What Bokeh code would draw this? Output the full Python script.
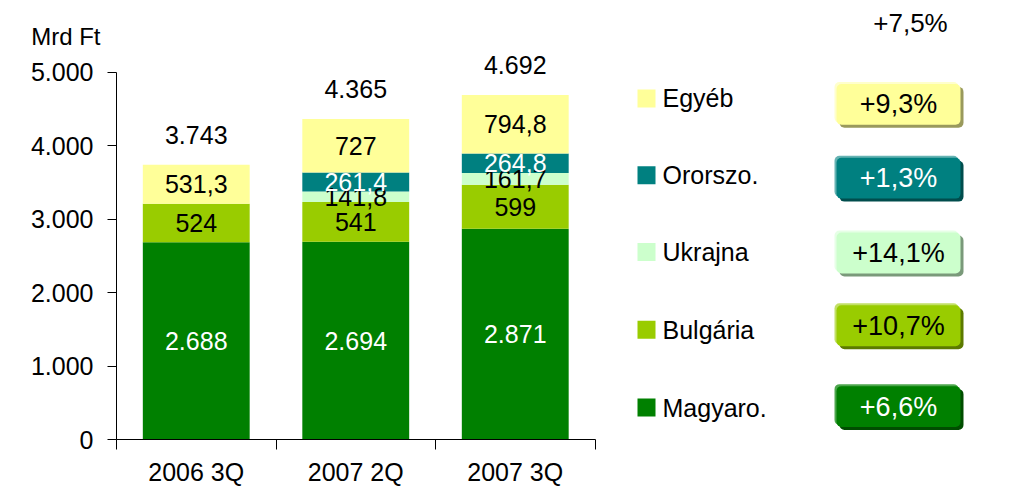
from bokeh.plotting import figure
from bokeh.layouts import column
from bokeh.models import ColumnDataSource, FixedTicker, Range1d, BoxAnnotation
from bokeh.core.properties import value
from bokeh.embed import file_html
from bokeh.resources import INLINE
import numpy as np

# ---------------- data ----------------
categories = ["2006 3Q", "2007 2Q", "2007 3Q"]
series = ["Magyaro.", "Bulgária", "Ukrajna", "Ororszo.", "Egyéb"]
magyaro = [2688, 2694, 2871]
bulgaria = [524, 541, 599]
ukrajna = [0, 141.8, 161.7]
oroszo = [0, 261.4, 264.8]
egyeb = [531.3, 727, 794.8]
totals = [3743, 4365, 4692]
growth = [6.6, 10.7, 14.1, 1.3, 9.3]          # same order as series
total_growth = 7.5
y_ticks = [0, 1000, 2000, 3000, 4000, 5000]
unit_label = "Mrd Ft"

# ---------------- styles ----------------
colors = ["#008000", "#99CC00", "#CCFFCC", "#008080", "#FFFF99"]
shadows = ["#004d00", "#5c7a00", "#7a997a", "#004d4d", "#99995c"]
highlights = ["#4da64d", "#c2e066", "#e6ffe6", "#66b3b3", "#ffffcc"]
seg_text = ["white", "black", "black", "white", "black"]
box_text = ["white", "black", "black", "white", "black"]
FONT = "Liberation Sans"

def hu(v):
    if float(v) == int(v):
        return f"{int(v):,}".replace(",", ".")
    return f"{v:.1f}".replace(".", ",")

def pct(v):
    return "+" + f"{v:.1f}".replace(".", ",") + "%"

# ---------------- layout (page pixels -> data) ----------------
W, H = 1009, 488
HEAD_H = 50
AX_LEFT_PX, CAT_PX, ZERO_PX, PX_PER_K = 116, 159.5, 440, 73.6

def px2x(px):
    return 0.5 + (px - AX_LEFT_PX) / CAT_PX

def py2y(py):
    return (ZERO_PX - py) / PX_PER_K * 1000

# ---------- header strip (unit label and total growth) ----------
head = figure(width=W, height=HEAD_H, output_backend="svg", toolbar_location=None,
              x_range=Range1d(AX_LEFT_PX, W), y_range=Range1d(HEAD_H, 0),
              x_axis_location=None, y_axis_location="left",
              min_border_left=AX_LEFT_PX, min_border_right=0,
              min_border_top=0, min_border_bottom=0)
head.outline_line_color = None
head.grid.visible = False
hy = head.yaxis[0]
hy.ticker = FixedTicker(ticks=[36])
hy.major_label_overrides = {36: unit_label}
hy.axis_line_color = None
hy.major_tick_line_color = None
hy.minor_tick_line_color = None
hy.major_tick_out = 0
hy.major_tick_in = 0
hy.major_label_standoff = 16
hy.major_label_text_font = FONT
hy.major_label_text_font_size = "24px"
hy.major_label_text_color = "black"
head.text(x=[910], y=[22], text=[pct(total_growth)], text_align="center",
          text_baseline="middle", text_font=value(FONT), text_font_size="26px",
          text_color="black")

# ---------- main chart ----------
p = figure(width=W, height=H - HEAD_H, output_backend="svg", toolbar_location=None,
           x_range=Range1d(0.5, px2x(W)), y_range=Range1d(0, py2y(HEAD_H)),
           min_border_left=AX_LEFT_PX, min_border_right=0,
           min_border_top=0, min_border_bottom=H - ZERO_PX)
p.outline_line_color = None
p.grid.visible = False

xs = [1, 2, 3]
cols = ["magyaro", "bulgaria", "ukrajna", "oroszo", "egyeb"]
src = ColumnDataSource(dict(x=xs, magyaro=magyaro, bulgaria=bulgaria,
                            ukrajna=ukrajna, oroszo=oroszo, egyeb=egyeb))
p.vbar_stack(cols, x="x", width=0.67, color=colors, line_color=None, source=src)

# segment labels
vals = np.array([magyaro, bulgaria, ukrajna, oroszo, egyeb], dtype=float)
cum = np.cumsum(vals, axis=0)
for i in range(len(series)):
    centers = cum[i] - vals[i] / 2
    lx, ly, lt = [], [], []
    for j in range(len(xs)):
        if vals[i][j] > 0:
            lx.append(xs[j]); ly.append(centers[j]); lt.append(hu(vals[i][j]))
    p.text(x=lx, y=ly, text=lt, text_align="center", text_baseline="middle",
           text_font=value(FONT), text_font_size="25px", text_color=seg_text[i])

# totals
p.text(x=xs, y=totals, text=[hu(t) for t in totals], y_offset=-30,
       text_align="center", text_baseline="middle", text_font=value(FONT),
       text_font_size="25px", text_color="black")

# axes
ya = p.yaxis[0]
ya.ticker = FixedTicker(ticks=y_ticks)
ya.bounds = (0, 5000)
ya.major_label_overrides = {t: hu(t) for t in y_ticks}
ya.major_tick_out = 9
ya.major_tick_in = 0
ya.minor_tick_line_color = None
ya.major_label_standoff = 14
ya.major_label_text_font = FONT
ya.major_label_text_font_size = "25px"
ya.major_label_text_color = "black"
ya.axis_line_color = "black"
ya.major_tick_line_color = "black"

xa = p.xaxis[0]
xa.ticker = FixedTicker(ticks=xs, minor_ticks=[0.5, 1.5, 2.5, 3.5])
xa.bounds = (0.5, 3.5)
xa.major_label_overrides = {x: c for x, c in zip(xs, categories)}
xa.major_tick_out = 0
xa.major_tick_in = 0
xa.major_tick_line_color = None
xa.minor_tick_out = 10
xa.minor_tick_in = 0
xa.minor_tick_line_color = "black"
xa.major_label_standoff = 8
xa.major_label_text_font = FONT
xa.major_label_text_font_size = "25px"
xa.major_label_text_color = "black"
xa.axis_line_color = "black"

# legend + growth boxes (top to bottom: Egyéb ... Magyaro.)
legend_y_px = [408, 330, 252, 175, 98]     # per series index
box_y_px = [407, 326, 253, 178, 104]
BOX_L, BOX_R, BOX_H = 836, 960, 41
for i, name in enumerate(series):
    p.scatter(x=[px2x(646)], y=[py2y(legend_y_px[i])], marker="square", size=18,
              fill_color=colors[i], line_color=None)
    p.text(x=[px2x(662)], y=[py2y(legend_y_px[i])], text=[name], text_align="left",
           text_baseline="middle", text_font=value(FONT), text_font_size="25px",
           text_color="black")
    cy = box_y_px[i]
    for dx, col in ((3, shadows[i]), (-2, highlights[i]), (0, colors[i])):
        p.add_layout(BoxAnnotation(left=px2x(BOX_L + dx), right=px2x(BOX_R + dx),
                                   top=py2y(cy - BOX_H / 2 + dx),
                                   bottom=py2y(cy + BOX_H / 2 + dx),
                                   fill_color=col, fill_alpha=1, line_color=None,
                                   border_radius=5, level="underlay"))
    p.text(x=[px2x((BOX_L + BOX_R) / 2)], y=[py2y(cy)], text=[pct(growth[i])],
           text_align="center", text_baseline="middle", text_font=value(FONT),
           text_font_size="27px", text_color=box_text[i])

layout = column(head, p, spacing=0)
open("out.html", "w").write(file_html(layout, INLINE))
